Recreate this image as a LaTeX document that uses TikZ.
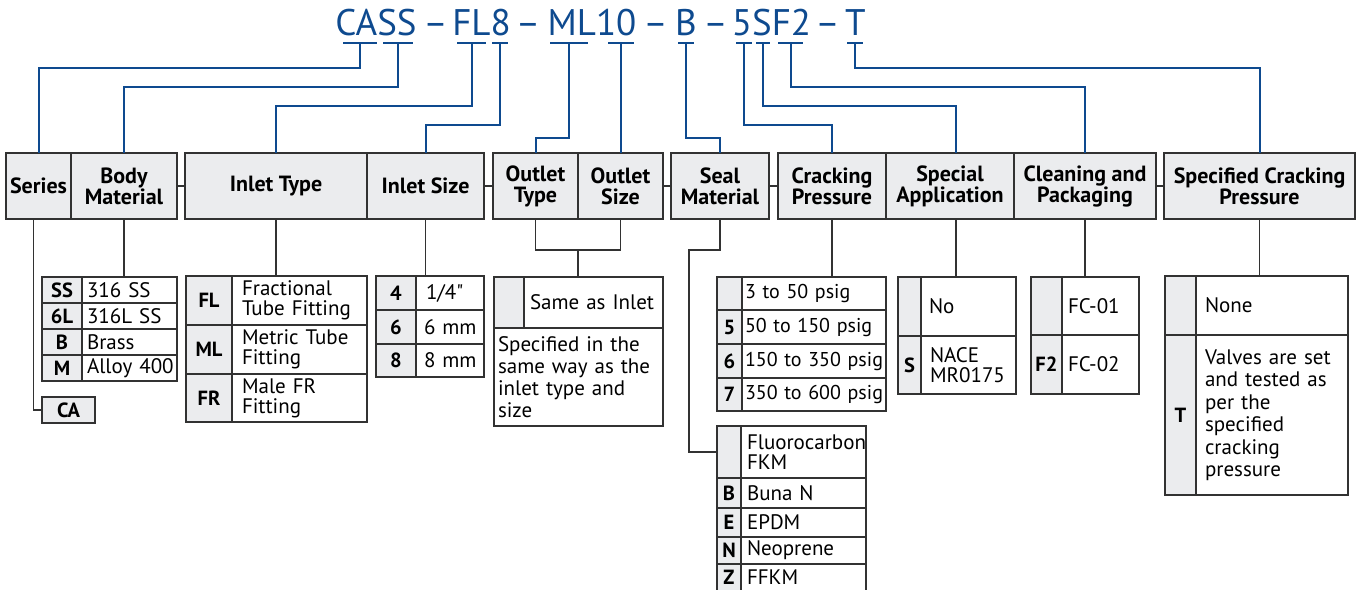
\documentclass[tikz,border=0pt]{standalone}
\usepackage{fontspec}
\setmainfont{PT Sans}
\usetikzlibrary{positioning}
\definecolor{codeblue}{RGB}{14,74,143}
\definecolor{cellgray}{RGB}{235,236,238}
\definecolor{rulegray}{RGB}{50,50,50}
\tikzset{
    header/.style={rectangle, draw=rulegray, fill=cellgray, line width=1.6pt, minimum height=66pt, inner sep=0pt, outer sep=0pt, align=center, font=\bfseries\fontsize{22}{21}\selectfont},
    codecell/.style={rectangle, draw=rulegray, fill=cellgray, line width=1.6pt, inner sep=0pt, outer sep=0pt, font=\bfseries\fontsize{20.5}{20}\selectfont},
    lpad/.style={execute at begin node={\leftskip=#1\relax}},
    valcell/.style={rectangle, draw=rulegray, fill=white, line width=1.6pt, inner sep=0pt, outer sep=0pt, align=left, font=\fontsize{21}{20}\selectfont, lpad=5pt},
    numcell/.style={valcell, font=\fontsize{20}{20}\selectfont},
    codepart/.style={text=codeblue, font=\fontsize{37}{40}\selectfont, anchor=base, inner sep=0pt},
    codeline/.style={draw=codeblue, line width=2pt},
    lead/.style={draw=rulegray, line width=1.6pt}
}
\begin{document}
\begin{tikzpicture}[x=1pt, y=-1pt]
    \path[use as bounding box, clip] (0,0) rectangle (1359,589);

    % Ordering code
    \node[codepart] (p-cass) at (376,35) {CASS};
    \node[codepart] (d1) at (435.5,35) {--};
    \node[codepart] (p-fl8) at (481.5,35) {FL8};
    \node[codepart] (d2) at (528,35) {--};
    \node[codepart] (p-ml10) at (592,35) {ML10};
    \node[codepart] (d3) at (655.5,35) {--};
    \node[codepart] (p-b) at (686,35) {B};
    \node[codepart] (d4) at (715.5,35) {--};
    \node[codepart] (p-5sf2) at (771.5,35) {5SF2};
    \node[codepart] (d5) at (827.5,35) {--};
    \node[codepart] (p-t) at (855.5,35) {T};

    % Underlines
    \foreach \n/\x/\w in {c/360/17, s/398/15, fl/471.5/14.5, e/500/8, ml/569/19, ten/621/13, b/686/8, five/744/8, sp/763/7, f/790.5/12.5, t/855/8} {
        \coordinate (u-\n) at (\x,43);
        \draw[codeline] (\x-\w,43) -- (\x+\w,43);
    }

    % Header row
    \node[header, minimum width=65pt, anchor=north west] (series) at (6,153) {Series};
    \node[header, minimum width=106pt, right=0pt of series] (body) {Body\\Material};
    \node[header, minimum width=182pt, right=8pt of body] (itype) {Inlet Type};
    \node[header, minimum width=117pt, right=0pt of itype] (isize) {Inlet Size};
    \node[header, minimum width=85pt, right=9pt of isize] (otype) {Outlet\\Type};
    \node[header, minimum width=85pt, right=0pt of otype] (osize) {Outlet\\Size};
    \node[header, minimum width=98pt, right=8pt of osize] (seal) {Seal\\Material};
    \node[header, minimum width=108pt, right=9pt of seal] (crack) {Cracking\\Pressure};
    \node[header, minimum width=128pt, right=0pt of crack] (special) {Special\\Application};
    \node[header, minimum width=142pt, right=0pt of special] (clean) {Cleaning and\\Packaging};
    \node[header, minimum width=191pt, right=8pt of clean] (spec) {Specified Cracking\\Pressure};
    \coordinate (sa-in) at ([xshift=6pt]special.north);
    \coordinate (sa-out) at ([xshift=6pt]special.south);

    \draw[lead] (body) -- (itype);
    \draw[lead] (isize) -- (otype);
    \draw[lead] (osize) -- (seal);
    \draw[lead] (seal) -- (crack);
    \draw[lead] (clean) -- (spec);

    % Code to header
    \draw[codeline] (u-c) -- ++(0,25) -| (series.north);
    \draw[codeline] (u-s) -- ++(0,44) -| (body.north);
    \draw[codeline] (u-fl) -- ++(0,63) -| (itype.north);
    \draw[codeline] (u-e) -- ++(0,82) -| (isize.north);
    \draw[codeline] (u-ml) -- ++(0,95) -| (otype.north);
    \draw[codeline] (u-ten) -- (u-ten |- osize.north);
    \draw[codeline] (u-b) -- ++(0,95) -| (seal.north);
    \draw[codeline] (u-five) -- ++(0,82) -| (crack.north);
    \draw[codeline] (u-sp) -- ++(0,63) -| (sa-in);
    \draw[codeline] (u-f) -- ++(0,44) -| (clean.north);
    \draw[codeline] (u-t) -- ++(0,25) -| (spec.north);

    % Series
    \node[codecell, minimum width=53pt, minimum height=26pt, anchor=north west] (ca) at (42,397) {CA};
    \draw[lead] ([xshift=-5pt]series.south) |- (ca.west);

    % Body material
    \foreach \c/\v [count=\i] in {SS/316 SS, 6L/316L SS, B/Brass, M/Alloy 400} {
        \node[codecell, minimum width=40pt, minimum height=26pt, anchor=north west] (bm-c\i) at (42,{277+26*(\i-1)}) {\c};
        \node[valcell, text width=95pt, minimum height=26pt, right=0pt of bm-c\i] (bm-v\i) {\v};
    }
    \draw[lead] (body.south) -- (body.south |- bm-v1.north);

    % Inlet type
    \node[codecell, minimum width=46pt, minimum height=49pt, anchor=north west] (it-c1) at (186,276) {FL};
    \node[valcell, text width=135pt, minimum height=49pt, lpad=10pt, right=0pt of it-c1] (it-v1) {Fractional\\Tube Fitting};
    \node[codecell, minimum width=46pt, minimum height=49pt, below=0pt of it-c1] (it-c2) {ML};
    \node[valcell, text width=135pt, minimum height=49pt, lpad=10pt, right=0pt of it-c2] (it-v2) {Metric Tube\\Fitting};
    \node[codecell, minimum width=46pt, minimum height=48pt, below=0pt of it-c2] (it-c3) {FR};
    \node[valcell, text width=135pt, minimum height=48pt, lpad=10pt, right=0pt of it-c3] (it-v3) {Male FR\\Fitting};
    \draw[lead] (itype.south) -- (itype.south |- it-v1.north);

    % Inlet size
    \node[codecell, minimum width=40pt, minimum height=34pt, anchor=north west] (is-c1) at (376,276) {4};
    \node[valcell, text width=68pt, minimum height=34pt, lpad=10pt, right=0pt of is-c1] (is-v1) {1/4\textquotedbl};
    \node[codecell, minimum width=40pt, minimum height=34pt, below=0pt of is-c1] (is-c2) {6};
    \node[valcell, text width=68pt, minimum height=34pt, lpad=8pt, right=0pt of is-c2] (is-v2) {6 mm};
    \node[codecell, minimum width=40pt, minimum height=33pt, below=0pt of is-c2] (is-c3) {8};
    \node[valcell, text width=68pt, minimum height=33pt, lpad=8pt, right=0pt of is-c3] (is-v3) {8 mm};
    \draw[lead] (isize.south) -- (isize.south |- is-v1.north);

    % Outlet type and size
    \node[codecell, minimum width=30pt, minimum height=51pt, anchor=north west] (ot-c1) at (494,277) {};
    \node[valcell, text width=139pt, minimum height=51pt, lpad=6pt, right=0pt of ot-c1] (ot-v1) {Same as Inlet};
    \node[valcell, text width=169pt, minimum height=98pt, lpad=4pt, font=\fontsize{21}{22}\selectfont, anchor=north west] (ot-v2) at (ot-c1.south west) {Specified in the\\same way as the\\inlet type and\\size};
    \coordinate (ojoin) at (578,250);
    \draw[lead] (otype.south) |- (ojoin) -| (osize.south);
    \draw[lead] (ojoin) -- (ojoin |- ot-v1.north);

    % Seal material
    \node[codecell, minimum width=24pt, minimum height=52pt, anchor=north west] (sm-c1) at (717,426) {};
    \node[valcell, text width=125pt, minimum height=52pt, lpad=6pt, right=0pt of sm-c1] (sm-v1) {Fluorocarbon\\FKM};
    \node[codecell, minimum width=24pt, minimum height=30pt, below=0pt of sm-c1] (sm-c2) {B};
    \node[valcell, text width=125pt, minimum height=30pt, lpad=6pt, right=0pt of sm-c2] (sm-v2) {Buna N};
    \node[codecell, minimum width=24pt, minimum height=29pt, below=0pt of sm-c2] (sm-c3) {E};
    \node[valcell, text width=125pt, minimum height=29pt, lpad=6pt, right=0pt of sm-c3] (sm-v3) {EPDM};
    \node[codecell, minimum width=24pt, minimum height=27pt, below=0pt of sm-c3] (sm-c4) {N};
    \node[valcell, text width=125pt, minimum height=27pt, lpad=6pt, right=0pt of sm-c4] (sm-v4) {Neoprene};
    \node[codecell, minimum width=24pt, minimum height=27pt, below=0pt of sm-c4] (sm-c5) {Z};
    \node[valcell, text width=125pt, minimum height=27pt, lpad=6pt, right=0pt of sm-c5] (sm-v5) {FFKM};
    \coordinate (sbend) at (689,250);
    \draw[lead] (seal.south) |- (sbend) |- (sm-c1.west);

    % Cracking pressure
    \node[codecell, minimum width=25pt, minimum height=33pt, anchor=north west] (cp-c1) at (717,277) {};
    \node[numcell, text width=144pt, minimum height=33pt, lpad=3pt, right=0pt of cp-c1] (cp-v1) {3 to 50 psig};
    \node[codecell, minimum width=25pt, minimum height=34pt, below=0pt of cp-c1] (cp-c2) {5};
    \node[numcell, text width=144pt, minimum height=34pt, lpad=3pt, right=0pt of cp-c2] (cp-v2) {50 to 150 psig};
    \node[codecell, minimum width=25pt, minimum height=34pt, below=0pt of cp-c2] (cp-c3) {6};
    \node[numcell, text width=144pt, minimum height=34pt, lpad=3pt, right=0pt of cp-c3] (cp-v3) {150 to 350 psig};
    \node[codecell, minimum width=25pt, minimum height=33pt, below=0pt of cp-c3] (cp-c4) {7};
    \node[numcell, text width=144pt, minimum height=33pt, lpad=3pt, right=0pt of cp-c4] (cp-v4) {350 to 600 psig};
    \draw[lead] (crack.south) -- (crack.south |- cp-v1.north);

    % Special application
    \node[codecell, minimum width=23pt, minimum height=59pt, anchor=north west] (sa-c1) at (898,277) {};
    \node[valcell, text width=95pt, minimum height=59pt, lpad=8pt, right=0pt of sa-c1] (sa-v1) {No};
    \node[codecell, minimum width=23pt, minimum height=58pt, below=0pt of sa-c1] (sa-c2) {S};
    \node[valcell, text width=95pt, minimum height=58pt, lpad=9pt, right=0pt of sa-c2] (sa-v2) {NACE\\MR0175};
    \draw[lead] (sa-out) -- (sa-out |- sa-v1.north);

    % Cleaning and packaging
    \node[codecell, minimum width=31pt, minimum height=58pt, anchor=north west] (cl-c1) at (1031,277) {};
    \node[valcell, text width=77pt, minimum height=58pt, lpad=6pt, right=0pt of cl-c1] (cl-v1) {FC-01};
    \node[codecell, minimum width=31pt, minimum height=59pt, below=0pt of cl-c1] (cl-c2) {F2};
    \node[valcell, text width=77pt, minimum height=59pt, lpad=6pt, right=0pt of cl-c2] (cl-v2) {FC-02};
    \draw[lead] (clean.south) -- (clean.south |- cl-v1.north);

    % Specified cracking pressure
    \node[codecell, minimum width=31pt, minimum height=59pt, anchor=north west] (sc-c1) at (1165,276) {};
    \node[valcell, text width=152pt, minimum height=59pt, lpad=9pt, right=0pt of sc-c1] (sc-v1) {None};
    \node[codecell, minimum width=31pt, minimum height=160pt, below=0pt of sc-c1] (sc-c2) {T};
    \node[valcell, text width=152pt, minimum height=160pt, lpad=9pt, font=\fontsize{21}{22.5}\selectfont, right=0pt of sc-c2] (sc-v2) {Valves are set\\and tested as\\per the\\specified\\cracking\\pressure};
    \draw[lead] (spec.south) -- (spec.south |- sc-v1.north);
\end{tikzpicture}
\end{document}
